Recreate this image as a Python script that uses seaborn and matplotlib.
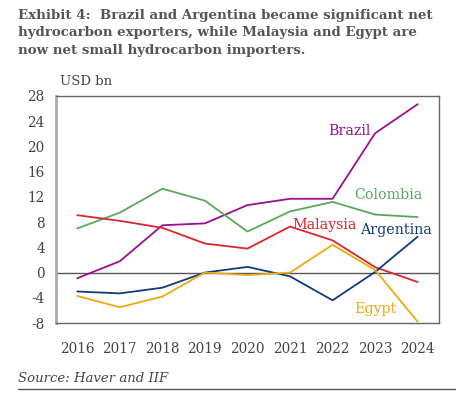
import matplotlib
matplotlib.use("Agg")
import matplotlib.pyplot as plt
import seaborn as sns
import pandas as pd

years = [2016, 2017, 2018, 2019, 2020, 2021, 2022, 2023, 2024]
brazil = [-0.9, 1.8, 7.5, 7.8, 10.7, 11.7, 11.7, 22.1, 26.7]
colombia = [7.0, 9.5, 13.3, 11.4, 6.5, 9.7, 11.2, 9.2, 8.8]
malaysia = [9.1, 8.2, 7.1, 4.6, 3.8, 7.3, 5.1, 0.85, -1.5]
argentina = [-3.0, -3.3, -2.4, 0.0, 0.9, -0.6, -4.4, 0.1, 5.7]
egypt = [-3.7, -5.5, -3.8, 0.0, -0.4, 0.0, 4.4, 0.4, -7.8]
countries = ["Brazil", "Colombia", "Malaysia", "Argentina", "Egypt"]
yticks = [-8, -4, 0, 4, 8, 12, 16, 20, 24, 28]

colors = {"Brazil": "#9c0f92", "Colombia": "#5aa85a", "Malaysia": "#d9262e",
          "Argentina": "#113b7a", "Egypt": "#eeaa10"}

series = dict(zip(countries, [brazil, colombia, malaysia, argentina, egypt]))
df = pd.DataFrame([{"year": y, "value": v, "country": c}
                   for c, vals in series.items() for y, v in zip(years, vals)])

sns.set_theme(style="white")
plt.rcParams["font.family"] = ["DejaVu Serif"]

fig = plt.figure(figsize=(4.6, 3.96), dpi=100)
ax = fig.add_axes([0.1217, 0.1843, 0.8326, 0.5733])
ax.axhline(0, color="#555555", lw=1.0, zorder=1)
sns.lineplot(data=df, x="year", y="value", hue="country", palette=colors,
             hue_order=countries, ax=ax, lw=1.3, legend=False, zorder=3)

ax.set_xlim(2015.5, 2024.5)
ax.set_ylim(-8, 28)
ax.set_xticks(years)
ax.set_xticklabels([str(y) for y in years])
ax.set_yticks(yticks)
ax.set_yticklabels([str(t) for t in yticks])
ax.tick_params(axis="both", length=0, labelsize=9.8, colors="#444444")
ax.tick_params(axis="x", pad=14)
ax.tick_params(axis="y", pad=8)
ax.set_xlabel("")
ax.set_ylabel("")
for side in ["top", "right", "bottom"]:
    ax.spines[side].set_color("#666666")
    ax.spines[side].set_linewidth(1.0)
ax.spines["left"].set_color("#aaaaaa")
ax.spines["left"].set_linewidth(2.0)

labels = {"Brazil": (2022.4, 22.5), "Colombia": (2023.3, 12.3),
          "Malaysia": (2021.8, 7.6), "Argentina": (2023.5, 6.8),
          "Egypt": (2023.0, -5.8)}
for c, (x, y) in labels.items():
    ax.text(x, y, c, color=colors[c], fontsize=10.3, ha="center", va="center")

fig.text(0.13, 0.795, "USD bn", fontsize=9.5, color="#444444", ha="left", va="center")
fig.text(0.04, 0.978,
         "Exhibit 4:  Brazil and Argentina became significant net\n"
         "hydrocarbon exporters, while Malaysia and Egypt are\n"
         "now net small hydrocarbon importers.",
         fontsize=9.6, fontweight="bold", color="#555555", ha="left", va="top",
         linespacing=1.45)
fig.text(0.04, 0.045, "Source: Haver and IIF", fontsize=9.5, style="italic",
         color="#444444", ha="left", va="center")
fig.add_artist(plt.Line2D([0.04, 0.99], [0.018, 0.018], color="#555555", lw=1.0,
                          transform=fig.transFigure))

fig.savefig("out.png", dpi=100)
